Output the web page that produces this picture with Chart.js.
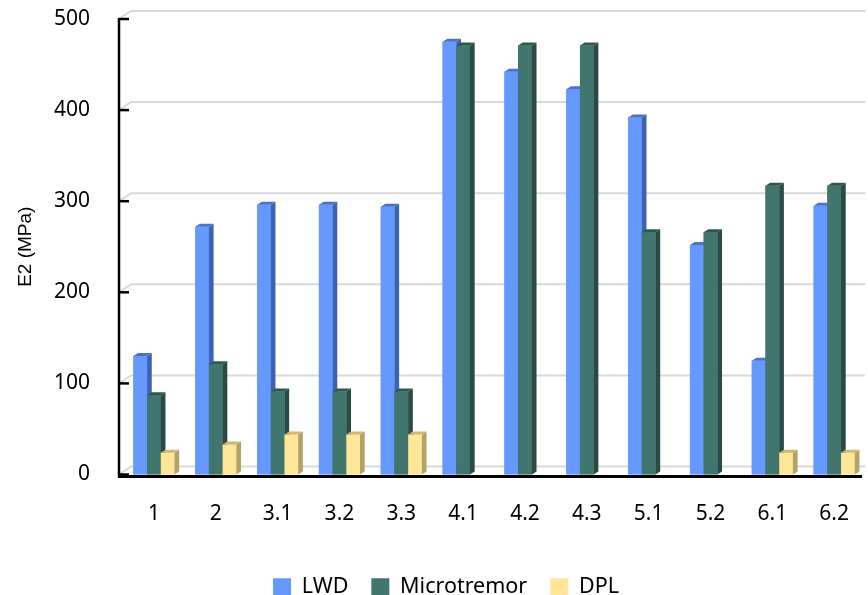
<!DOCTYPE html>
<html>
<head>
<meta charset="utf-8">
<script src="https://cdn.jsdelivr.net/npm/chart.js@4/dist/chart.umd.min.js"></script>
<style>
  html, body { margin: 0; padding: 0; background: #fff; }
  #wrap { width: 868px; height: 595px; }
</style>
</head>
<body>
<div id="wrap"><canvas id="c"></canvas></div>
<script>
const categories = ["1", "2", "3.1", "3.2", "3.3", "4.1", "4.2", "4.3", "5.1", "5.2", "6.1", "6.2"];
const lwd = [130, 272, 296, 296, 294, 475, 442, 423, 392, 252, 125, 295];
const microtremor = [87, 121, 91, 91, 91, 471, 471, 471, 266, 266, 317, 317];
const dpl = [24, 33, 44, 44, 44, 0, 0, 0, 0, 0, 24, 24];
const yTicks = [0, 100, 200, 300, 400, 500];

// front, side, top shades for the fake 3D look
const SHADES = [
  ["#6699ff", "#3d62af", "#4a72cc"],
  ["#41766e", "#2a4a45", "#30574f"],
  ["#ffe699", "#b5a267", "#cdb878"],
];
const DEPTH = 4.7, RISE = 3;

function drawFaces(ctx, bar, side, top) {
  const { x, y, base, width } = bar.getProps(["x", "y", "base", "width"], true);
  if (Math.abs(base - y) < 0.5) return;
  const l = x - width / 2, r = x + width / 2;
  ctx.fillStyle = side;
  ctx.beginPath();
  ctx.moveTo(r, y);
  ctx.lineTo(r + DEPTH, y - RISE);
  ctx.lineTo(r + DEPTH, base - RISE);
  ctx.lineTo(r, base);
  ctx.closePath();
  ctx.fill();
  ctx.fillStyle = top;
  ctx.beginPath();
  ctx.moveTo(l, y);
  ctx.lineTo(l + DEPTH, y - RISE);
  ctx.lineTo(r + DEPTH, y - RISE);
  ctx.lineTo(r, y);
  ctx.closePath();
  ctx.fill();
}

const bars3d = {
  id: "bars3d",
  beforeDatasetsDraw(chart) {
    const { ctx, chartArea, scales: { y } } = chart;
    ctx.save();
    ctx.strokeStyle = "#d9d9d9";
    ctx.lineWidth = 2;
    yTicks.forEach((v) => {
      const py = y.getPixelForValue(v);
      ctx.beginPath();
      ctx.moveTo(chartArea.left - 4, py);
      ctx.lineTo(chartArea.left + 8, py - 8);
      ctx.lineTo(chartArea.right, py - 8);
      ctx.stroke();
    });
    ctx.restore();
  },
  afterDatasetsDraw(chart) {
    const { ctx, chartArea, scales: { y } } = chart;
    // redraw series front to back so each one hides the sides of the one before
    ctx.save();
    chart.data.datasets.forEach((ds, i) => {
      const meta = chart.getDatasetMeta(i);
      meta.data.forEach((bar) => {
        bar.draw(ctx, chartArea);
        drawFaces(ctx, bar, SHADES[i][1], SHADES[i][2]);
      });
    });
    ctx.restore();

    const ax = chartArea.left - 4;
    const bottom = y.getPixelForValue(0) + 2;
    ctx.save();
    ctx.strokeStyle = "#000";
    ctx.lineWidth = 2.5;
    ctx.beginPath();
    ctx.moveTo(ax, y.getPixelForValue(500) - 1);
    ctx.lineTo(ax, bottom);
    ctx.stroke();
    yTicks.forEach((v) => {
      const py = y.getPixelForValue(v);
      ctx.beginPath();
      ctx.moveTo(ax, py);
      ctx.lineTo(ax + 10, py);
      ctx.stroke();
    });
    ctx.lineWidth = 3;
    ctx.beginPath();
    ctx.moveTo(ax - 1, bottom);
    ctx.lineTo(chartArea.right - 3, bottom);
    ctx.stroke();
    ctx.restore();
  },
};

new Chart(document.getElementById("c"), {
  type: "bar",
  data: {
    labels: categories,
    datasets: [
      { label: "LWD", data: lwd, backgroundColor: SHADES[0][0] },
      { label: "Microtremor", data: microtremor, backgroundColor: SHADES[1][0] },
      { label: "DPL", data: dpl, backgroundColor: SHADES[2][0] },
    ],
  },
  options: {
    responsive: true,
    maintainAspectRatio: false,
    animation: false,
    datasets: { bar: { barPercentage: 1, categoryPercentage: 0.665 } },
    layout: { padding: { top: 19, right: 0, left: 24, bottom: -13 } },
    scales: {
      x: {
        grid: { display: false },
        border: { display: false },
        ticks: { color: "#000", padding: 19, maxRotation: 0, font: { family: "Noto Sans", size: 21 } },
        afterFit: (s) => { s.height = 79; },
      },
      y: {
        min: 0,
        max: 500,
        afterBuildTicks: (s) => { s.ticks = yTicks.map((v) => ({ value: v })); },
        grid: { display: false, drawTicks: false },
        border: { display: false },
        ticks: { color: "#000", padding: 33, font: { family: "Noto Sans", size: 21 } },
        title: {
          display: true,
          text: "E2 (MPa)",
          color: "#000",
          padding: { top: -10, bottom: 0 },
          font: { family: "Liberation Sans", size: 19 },
        },
        afterFit: (s) => {
          s.width = 99;
          s.paddingTop = 0;
          s.paddingBottom = 0;
        },
      },
    },
    plugins: {
      legend: {
        position: "bottom",
        labels: {
          color: "#000",
          boxWidth: 18,
          boxHeight: 18,
          padding: 23,
          font: { family: "Noto Sans", size: 21.5 },
        },
      },
      tooltip: { enabled: false },
    },
  },
  plugins: [bars3d],
});
</script>
</body>
</html>
